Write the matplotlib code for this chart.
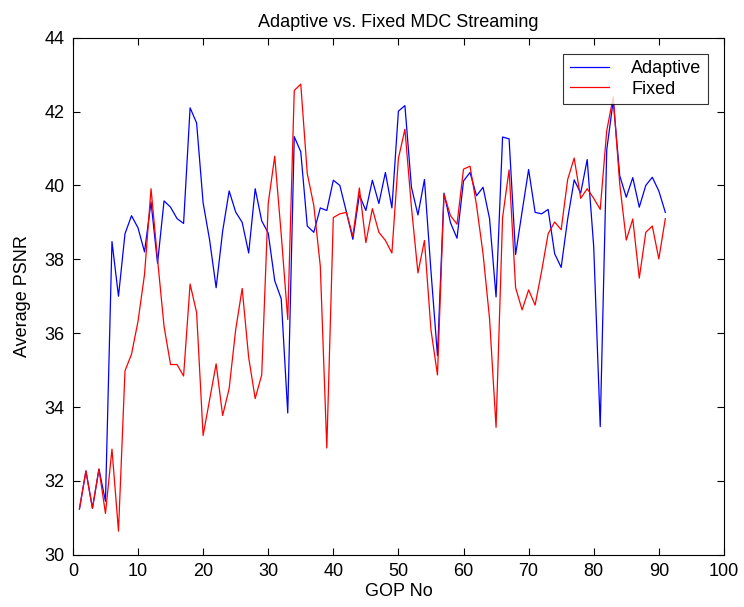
import matplotlib
matplotlib.use("Agg")
import matplotlib.pyplot as plt

gop = list(range(1, 92))

adaptive = [
    31.24, 32.27, 31.26, 32.32, 31.45, 38.48, 37.00, 38.69, 39.18, 38.85,
    38.20, 39.55, 37.89, 39.58, 39.41, 39.10, 38.97, 42.10, 41.69, 39.53,
    38.52, 37.23, 38.76, 39.85, 39.28, 39.00, 38.17, 39.91, 39.04, 38.71,
    37.42, 36.93, 33.84, 41.32, 40.91, 38.90, 38.73, 39.39, 39.32, 40.14,
    40.00, 39.29, 38.54, 39.74, 39.32, 40.14, 39.51, 40.35, 39.39, 42.01,
    42.16, 39.95, 39.20, 40.16, 37.68, 35.39, 39.79, 38.99, 38.57, 40.12,
    40.35, 39.72, 39.95, 39.10, 36.98, 41.31, 41.26, 38.13, 39.29, 40.43,
    39.27, 39.23, 39.35, 38.15, 37.78, 39.09, 40.15, 39.79, 40.70, 38.34,
    33.47, 40.96, 42.30, 40.26, 39.68, 40.21, 39.41, 40.00, 40.22, 39.85,
    39.27,
]

fixed = [
    31.24, 32.27, 31.26, 32.32, 31.12, 32.86, 30.64, 34.98, 35.43, 36.32,
    37.59, 39.91, 38.00, 36.18, 35.15, 35.15, 34.84, 37.33, 36.56, 33.23,
    34.20, 35.17, 33.77, 34.50, 36.09, 37.21, 35.34, 34.23, 34.87, 39.51,
    40.79, 38.67, 36.37, 42.57, 42.74, 40.32, 39.46, 37.82, 32.89, 39.13,
    39.23, 39.27, 38.62, 39.93, 38.45, 39.37, 38.73, 38.51, 38.17, 40.73,
    41.52, 39.41, 37.63, 38.51, 36.09, 34.87, 39.76, 39.18, 38.95, 40.44,
    40.52, 39.46, 38.15, 36.39, 33.45, 39.13, 40.42, 37.23, 36.63, 37.17,
    36.76, 37.68, 38.69, 39.01, 38.80, 40.16, 40.74, 39.65, 39.91, 39.65,
    39.35, 41.48, 42.40, 40.03, 38.52, 39.09, 37.49, 38.73, 38.90, 38.01,
    39.10,
]

plt.rcParams["font.family"] = ["Liberation Sans", "DejaVu Sans"]

fig = plt.figure(figsize=(7.44, 6.07), dpi=100)
ax = fig.add_axes([0.098, 0.086, 0.875, 0.852])

ax.plot(gop, adaptive, color="#0000ff", linewidth=0.9, label="Adaptive")
ax.plot(gop, fixed, color="#ff0000", linewidth=0.9, label="Fixed")

ax.set_xlim(0, 100)
ax.set_ylim(30, 44)
ax.set_xticks(range(0, 101, 10))
ax.set_yticks(range(30, 45, 2))
ax.tick_params(direction="in", top=True, right=True, labelsize=13, length=5, width=0.8, pad=6)
for s in ax.spines.values():
    s.set_linewidth(0.8)

ax.set_title("Adaptive vs. Fixed MDC Streaming", fontsize=13, pad=8)
ax.set_xlabel("GOP No", fontsize=13, labelpad=2)
ax.set_ylabel("Average PSNR", fontsize=13, labelpad=10)

leg = ax.legend(loc="upper right", fontsize=13, frameon=True, fancybox=False,
                edgecolor="black", borderaxespad=0.9, handlelength=2.2,
                handletextpad=1.2, borderpad=0.35, labelspacing=0.2)
leg.get_frame().set_linewidth(0.8)

fig.savefig("out.png", dpi=100)
